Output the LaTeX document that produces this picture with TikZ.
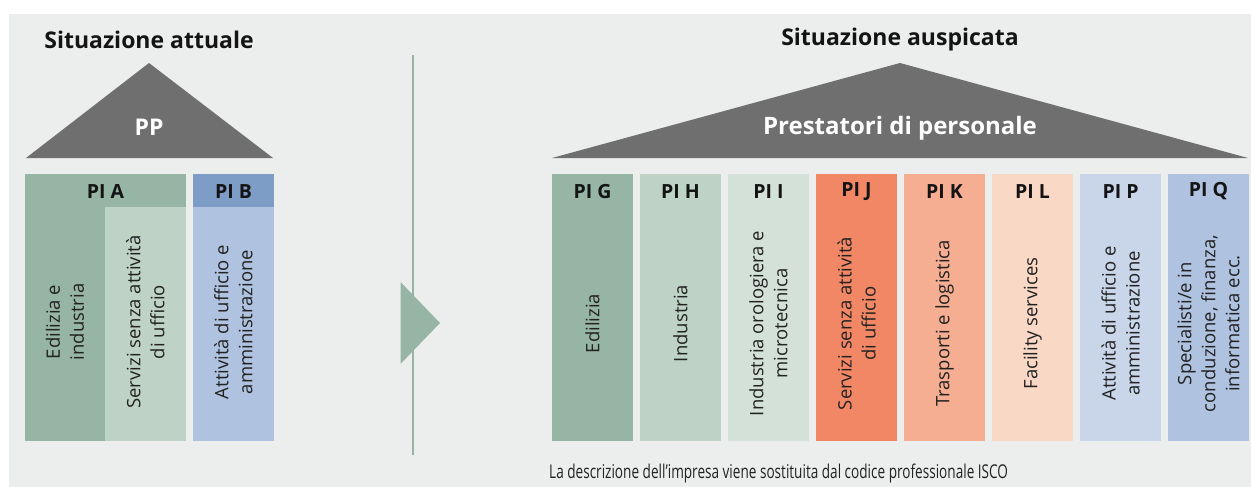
\documentclass[tikz,border=0pt]{standalone}
\usepackage{fontspec}
\usepackage{graphicx}
\setmainfont{Open Sans}
\definecolor{bg}{RGB}{236,238,237}
\definecolor{roof}{RGB}{110,111,110}
\definecolor{gA}{RGB}{151,181,164}
\definecolor{gB}{RGB}{190,211,198}
\definecolor{gC}{RGB}{212,225,217}
\definecolor{bA}{RGB}{126,157,198}
\definecolor{bB}{RGB}{175,194,223}
\definecolor{bC}{RGB}{201,213,233}
\definecolor{oA}{RGB}{242,135,101}
\definecolor{oB}{RGB}{246,174,146}
\definecolor{oC}{RGB}{250,216,198}
\definecolor{txt}{RGB}{34,34,34}
\definecolor{hd}{RGB}{20,20,20}
\begin{document}
\begin{tikzpicture}[x=1pt,y=-1pt,
  title/.style={font=\bfseries\fontsize{23}{28}\selectfont, text=hd, inner sep=0pt},
  rooftext/.style={font=\bfseries\fontsize{23}{28}\selectfont, text=white, inner sep=0pt},
  head/.style={font=\bfseries\fontsize{19.5}{22}\selectfont, text=hd, inner sep=0pt},
  vtext/.style={rotate=90, align=center, font=\fontsize{18.5}{24}\selectfont, text=txt, inner sep=0pt},
  col/.style={draw=none, inner sep=0pt, outer sep=0pt, minimum width=81pt, minimum height=267pt, anchor=north west},
  band/.style={draw=none, inner sep=0pt, outer sep=0pt, minimum height=33pt, anchor=north west}]
\useasboundingbox (0,0) rectangle (1251,487);
\fill[bg] (9,14) rectangle (1251,487);

% ---------- Situazione attuale ----------
\node[title] (t1) at (149,40) {Situazione attuale};
\coordinate (r1a) at (149,63);
\coordinate (r1l) at (26,158);
\coordinate (r1r) at (273,158);
\fill[roof] (r1a) -- (r1r) -- (r1l) -- cycle;
\node[rooftext] (pp) at (149,127) {PP};

\node[col, fill=gA, minimum width=161pt] (colA) at (25,174) {};
\node[col, fill=gB, minimum width=81pt, minimum height=234pt] (colA2) at (105,207) {};
\node[head] (hA) at (105.5,191.5) {PI A};
\node[vtext] (tA1) at (65,322) {Edilizia e\\industria};
\node[vtext] (tA2) at (145.5,322) {Servizi senza attività\\di ufficio};

\node[col, fill=bB] (colB) at (193,174) {};
\node[band, fill=bA, minimum width=81pt] (bandB) at (193,174) {};
\node[head] (hB) at (233.5,191.5) {PI B};
\node[vtext] (tB) at (233.5,322) {Attività di ufficio e\\amministrazione};

% ---------- divider and arrow ----------
\coordinate (d1) at (413.3,55);
\coordinate (d2) at (413.3,455);
\draw[gA, line width=2pt] (d1) -- (d2);
\coordinate (a1) at (400.5,282);
\coordinate (a2) at (440,323);
\coordinate (a3) at (400.5,364);
\fill[gA] (a1) -- (a2) -- (a3) -- cycle;

% ---------- Situazione auspicata ----------
\node[title] (t2) at (900,40) {Situazione auspicata};
\coordinate (r2a) at (900,63);
\coordinate (r2l) at (552,158);
\coordinate (r2r) at (1248,158);
\fill[roof] (r2a) -- (r2r) -- (r2l) -- cycle;
\node[rooftext, font=\bfseries\fontsize{24}{28}\selectfont] (ps) at (900,128) {Prestatori di personale};

\foreach \i/\c/\h/\t in {
  0/gA/PI G/Edilizia,
  1/gB/PI H/Industria,
  2/gC/PI I/{Industria orologiera e\\microtecnica},
  3/oA/PI J/{Servizi senza attività\\di ufficio},
  4/oB/PI K/Trasporti e logistica,
  5/oC/PI L/Facility services,
  6/bC/PI P/{Attività di ufficio e\\amministrazione},
  7/bB/PI Q/{Specialisti/e in\\conduzione, finanza,\\informatica ecc.}}{
  \node[col, fill=\c] (c\i) at (552+88*\i,174) {};
  \node[head] (h\i) at (592.5+88*\i,191.5) {\h};
  \node[vtext] (v\i) at (592.5+88*\i,323.5) {\t};
}

\node[anchor=base west, inner sep=0pt, text=txt, font=\fontsize{19}{22}\selectfont] (note) at (549,478)
  {\scalebox{0.715}[1]{La descrizione dell’impresa viene sostituita dal codice professionale ISCO}};
\end{tikzpicture}
\end{document}
